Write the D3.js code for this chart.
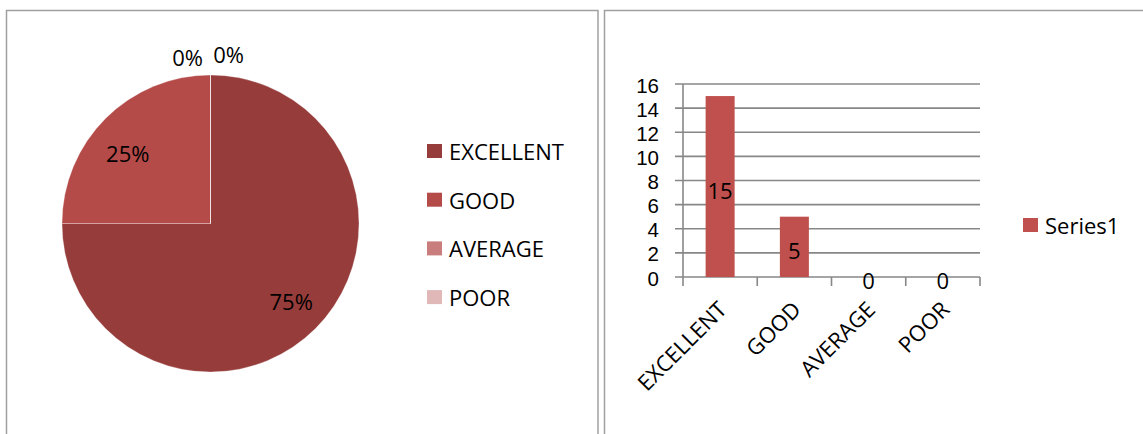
<!DOCTYPE html>
<html>
<head>
<meta charset="utf-8">
<script src="https://d3js.org/d3.v7.min.js"></script>
<style>
  html, body { margin: 0; padding: 0; background: #fff; }
  svg { display: block; }
  text { font-family: "Open Sans", "Liberation Sans", sans-serif; fill: #000; }
  text.ytick { font-family: "Liberation Sans", Arial, sans-serif; }
</style>
</head>
<body>
<svg id="chart" width="1143" height="434"></svg>
<script>
// ---- data ----
const categories = ["EXCELLENT", "GOOD", "AVERAGE", "POOR"];
const values = [15, 5, 0, 0];
const pieColors = ["#963c3b", "#b44b49", "#c97d7c", "#dfb8b7"];
const barColor = "#c0504d";
const seriesName = "Series1";
const yTicks = [0, 2, 4, 6, 8, 10, 12, 14, 16];

const svg = d3.select("#chart");
const FS = 22;
const TICK_FS = 20.5;

// ---- panel borders ----
svg.append("rect").attr("x", 6.5).attr("y", 10.5).attr("width", 591.5).attr("height", 440)
  .attr("fill", "none").attr("stroke", "#a0a0a0").attr("stroke-width", 1.5);
svg.append("rect").attr("x", 604.5).attr("y", 10.5).attr("width", 560).attr("height", 440)
  .attr("fill", "none").attr("stroke", "#a0a0a0").attr("stroke-width", 1.5);

// ---- pie chart ----
const total = d3.sum(values);
const cx = 210.5, cy = 223.5, r = 148.5;
const pie = d3.pie().sort(null).value(d => d.v);
const arcs = pie(categories.map((c, i) => ({ c, v: values[i], i })));
const arc = d3.arc().innerRadius(0).outerRadius(r);
const gPie = svg.append("g").attr("transform", `translate(${cx},${cy})`);
gPie.selectAll("path").data(arcs).join("path")
  .attr("d", arc)
  .attr("fill", d => pieColors[d.data.i])
  .attr("stroke", "rgba(255,255,255,0.45)")
  .attr("stroke-width", 0.6);

// percentage labels (best-fit style placement)
const pct = d3.format(".0%");
const labelArc = d3.arc().innerRadius(r * 0.74).outerRadius(r * 0.74);
const outerArc = d3.arc().innerRadius(r + 20).outerRadius(r + 20);
const nudge = [[3, 0], [-5, 7], [-23, 2], [18, -1]];
gPie.selectAll("text.pct").data(arcs).join("text")
  .attr("class", "pct")
  .attr("transform", d => {
    const p = d.data.v === 0 ? outerArc.centroid(d) : labelArc.centroid(d);
    const n = nudge[d.data.i];
    return `translate(${p[0] + n[0]},${p[1] + n[1]})`;
  })
  .attr("text-anchor", "middle")
  .attr("dominant-baseline", "central")
  .attr("font-size", FS)
  .text(d => pct(d.data.v / total));

// pie legend
const pieLeg = svg.append("g").attr("transform", "translate(427,151)");
const legItems = pieLeg.selectAll("g").data(categories).join("g")
  .attr("transform", (d, i) => `translate(0,${i * 48.7})`);
legItems.append("rect").attr("x", 0).attr("y", -7).attr("width", 15).attr("height", 14)
  .attr("fill", (d, i) => pieColors[i]);
legItems.append("text").attr("x", 22).attr("y", 0).attr("dominant-baseline", "central")
  .attr("font-size", FS).text(d => d);

// ---- bar chart ----
const x0 = 683, x1 = 980, yTop = 84, yBot = 277;
const x = d3.scaleBand().domain(categories).range([x0, x1]).paddingInner(0).paddingOuter(0);
const y = d3.scaleLinear().domain([0, 16]).range([yBot, yTop]);
const gridColor = "#878787";

// gridlines with left tick extension
svg.append("g").selectAll("line").data(yTicks).join("line")
  .attr("x1", x0 - 8).attr("x2", x1)
  .attr("y1", d => y(d)).attr("y2", d => y(d))
  .attr("stroke", gridColor).attr("stroke-width", 1.6);

// y axis line
svg.append("line").attr("x1", x0).attr("x2", x0).attr("y1", yTop).attr("y2", yBot + 9)
  .attr("stroke", gridColor).attr("stroke-width", 1.6);

// x-axis ticks at band boundaries
const boundaries = categories.map(c => x(c)).concat([x1]);
svg.append("g").selectAll("line").data(boundaries.slice(1)).join("line")
  .attr("x1", d => d).attr("x2", d => d).attr("y1", yBot).attr("y2", yBot + 9)
  .attr("stroke", gridColor).attr("stroke-width", 1.6);

// y tick labels
svg.append("g").selectAll("text").data(yTicks).join("text")
  .attr("class", "ytick")
  .attr("x", 659).attr("y", d => y(d) + 1)
  .attr("text-anchor", "end").attr("dominant-baseline", "central")
  .attr("font-size", TICK_FS).text(d => d);

// bars
const barW = 29;
svg.append("g").selectAll("rect").data(categories).join("rect")
  .attr("x", d => x(d) + x.bandwidth() / 2 - barW / 2)
  .attr("width", barW)
  .attr("y", (d, i) => y(values[i]))
  .attr("height", (d, i) => yBot - y(values[i]))
  .attr("fill", barColor);

// bar value labels
svg.append("g").selectAll("text").data(categories).join("text")
  .attr("x", d => x(d) + x.bandwidth() / 2)
  .attr("y", (d, i) => (y(values[i]) + yBot) / 2 + 3)
  .attr("text-anchor", "middle").attr("dominant-baseline", "central")
  .attr("font-size", FS).text((d, i) => values[i]);

// category labels rotated
svg.append("g").selectAll("text").data(categories).join("text")
  .attr("transform", d => `translate(${x(d) + x.bandwidth() / 2 + 8},${311}) rotate(-45)`)
  .attr("text-anchor", "end")
  .attr("font-size", FS).text(d => d);

// series legend
const sLeg = svg.append("g").attr("transform", "translate(1023,225)");
sLeg.append("rect").attr("x", 0).attr("y", -7).attr("width", 15).attr("height", 14).attr("fill", barColor);
sLeg.append("text").attr("x", 22).attr("y", 0).attr("dominant-baseline", "central")
  .attr("font-size", FS).text(seriesName);
</script>
</body>
</html>
